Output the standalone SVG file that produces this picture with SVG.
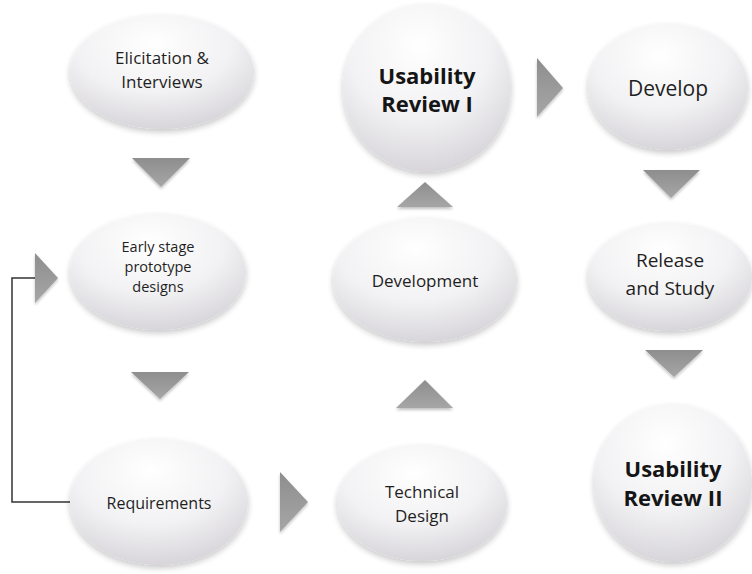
<svg xmlns="http://www.w3.org/2000/svg" width="752" height="574" viewBox="0 0 752 574">
  <defs>
    <radialGradient id="bubble" cx="0.45" cy="0.25" r="0.85">
      <stop offset="0" stop-color="#ffffff"/>
      <stop offset="0.5" stop-color="#f2f1f3"/>
      <stop offset="1" stop-color="#cfcdd2"/>
    </radialGradient>
    <linearGradient id="arrowFill" x1="0" y1="0" x2="0" y2="1">
      <stop offset="0" stop-color="#8e8e8e"/>
      <stop offset="1" stop-color="#a6a6a6"/>
    </linearGradient>
    <filter id="soft" x="-20%" y="-20%" width="140%" height="150%">
      <feGaussianBlur in="SourceAlpha" stdDeviation="3"/>
      <feOffset dy="3" result="b"/>
      <feComponentTransfer><feFuncA type="linear" slope="0.22"/></feComponentTransfer>
      <feMerge><feMergeNode/><feMergeNode in="SourceGraphic"/></feMerge>
    </filter>
    <filter id="arrowShadow" x="-30%" y="-30%" width="160%" height="170%">
      <feGaussianBlur in="SourceAlpha" stdDeviation="1.5"/>
      <feOffset dy="2"/>
      <feComponentTransfer><feFuncA type="linear" slope="0.25"/></feComponentTransfer>
      <feMerge><feMergeNode/><feMergeNode in="SourceGraphic"/></feMerge>
    </filter>
  </defs>
  <style>
    .bubble { fill: url(#bubble); filter: url(#soft); }
    .lbl { font-family: "Open Sans", "Noto Sans", "Liberation Sans", sans-serif; fill: #1f1f1f; text-anchor: middle; dominant-baseline: central; }
    .big { font-weight: bold; font-size: 22px; fill: #151515; }
    .tri { fill: url(#arrowFill); filter: url(#arrowShadow); }
    .link { fill: none; stroke: #333333; stroke-width: 1.5; }
  </style>
  <rect width="752" height="574" fill="#ffffff"/>

  <!-- flow arrows and feedback line -->
  <g id="connectors">
    <polygon class="tri" points="132,158 190,158 161,187"/>
    <polygon class="tri" points="131,372 189,372 160,399"/>
    <polygon class="tri" points="280,472 280,532 308,502"/>
    <polygon class="tri" points="396,408 453,408 425,380"/>
    <polygon class="tri" points="397,207 453,207 425,182"/>
    <polygon class="tri" points="537,58 537,117 563,88"/>
    <polygon class="tri" points="643,170 700,170 671,198"/>
    <polygon class="tri" points="645,350 703,350 674,377"/>
    <polyline class="link" points="70,502 12,502 12,278 35,278"/>
    <polygon class="tri" points="35,253 35,303 58,278"/>
  </g>

  <g id="elicitation">
    <ellipse class="bubble" cx="162" cy="72" rx="92" ry="57"/>
    <text class="lbl" x="162" y="57" font-size="17">Elicitation &amp;</text>
    <text class="lbl" x="162" y="81" font-size="17">Interviews</text>
  </g>

  <g id="early-stage">
    <ellipse class="bubble" cx="158" cy="272" rx="88" ry="58"/>
    <text class="lbl" x="158" y="246" font-size="14.5">Early stage</text>
    <text class="lbl" x="158" y="266" font-size="14.5">prototype</text>
    <text class="lbl" x="158" y="286" font-size="14.5">designs</text>
  </g>

  <g id="requirements">
    <ellipse class="bubble" cx="159" cy="502" rx="89" ry="63"/>
    <text class="lbl" x="159" y="503" font-size="16">Requirements</text>
  </g>

  <g id="technical-design">
    <ellipse class="bubble" cx="422" cy="503" rx="85" ry="58"/>
    <text class="lbl" x="422" y="491" font-size="17">Technical</text>
    <text class="lbl" x="422" y="515" font-size="17">Design</text>
  </g>

  <g id="development">
    <ellipse class="bubble" cx="425" cy="280" rx="92" ry="62"/>
    <text class="lbl" x="425" y="280" font-size="17">Development</text>
  </g>

  <g id="usability-review-1">
    <circle class="bubble" cx="427" cy="88" r="84"/>
    <text class="lbl big" x="427" y="75">Usability</text>
    <text class="lbl big" x="427" y="103">Review I</text>
  </g>

  <g id="develop">
    <ellipse class="bubble" cx="668" cy="87" rx="80" ry="63"/>
    <text class="lbl" x="668" y="88" font-size="21">Develop</text>
  </g>

  <g id="release-study">
    <ellipse class="bubble" cx="670" cy="277" rx="82" ry="54"/>
    <text class="lbl" x="670" y="260" font-size="19">Release</text>
    <text class="lbl" x="670" y="288" font-size="19">and Study</text>
  </g>

  <g id="usability-review-2">
    <circle class="bubble" cx="673" cy="483" r="79"/>
    <text class="lbl big" x="673" y="468">Usability</text>
    <text class="lbl big" x="673" y="497">Review II</text>
  </g>
</svg>
